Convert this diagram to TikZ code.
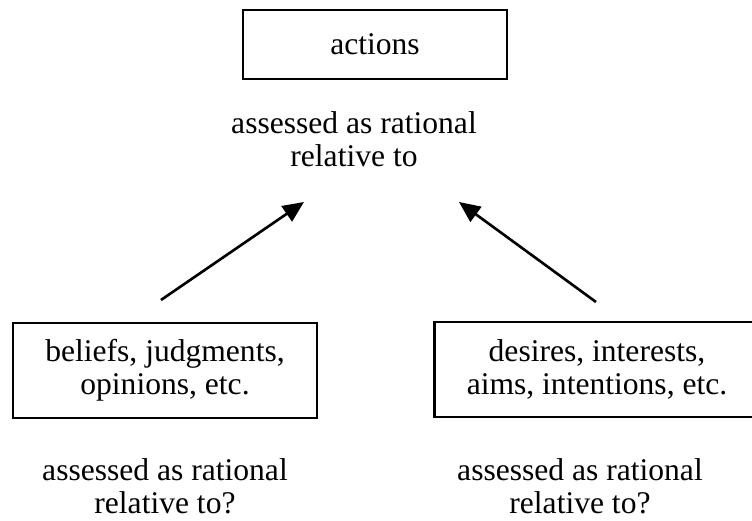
\documentclass[tikz,border=0pt]{standalone}
\usepackage{fontspec}
\setmainfont{Liberation Serif}
\usetikzlibrary{positioning,arrows.meta}

\begin{document}
\begin{tikzpicture}[%
    x=0.38pt, y=-0.38pt,        % grid in pixels of the page, y going down
    >={Triangle[length=8pt,width=7pt]},
    font=\fontsize{12}{12.5}\selectfont,
    ]
\tikzset{
  base/.style={align=center, inner sep=0pt},
  box/.style={base, draw, rectangle, line width=0.8pt},
  note/.style={base},
  link/.style={->, line width=1pt},
}
\useasboundingbox (0,0) rectangle (752,521);

\node [box, minimum width=100.3pt, minimum height=26.2pt] (a0) at (375,44.5) {actions};
\node [note] (t0) at (354,139) {assessed as rational\\relative to};

\node [box, minimum width=115.5pt, minimum height=36.1pt] (b0) at (165,370.5) {beliefs, judgments,\\opinions, etc.};
\node [box, minimum width=123.5pt, minimum height=36.1pt] (d0) at (597,369.5) {desires, interests,\\aims, intentions, etc.};

\node [note] (t1) at (165,486) {assessed as rational\\relative to?};
\node [note] (t2) at (580,486) {assessed as rational\\relative to?};

%connect
\coordinate (l0) at (161,300);
\coordinate (l1) at (304,202);
\coordinate (r0) at (596,302);
\coordinate (r1) at (459,202);
\draw [link] (l0) -- (l1);
\draw [link] (r0) -- (r1);

\end{tikzpicture}
\end{document}
